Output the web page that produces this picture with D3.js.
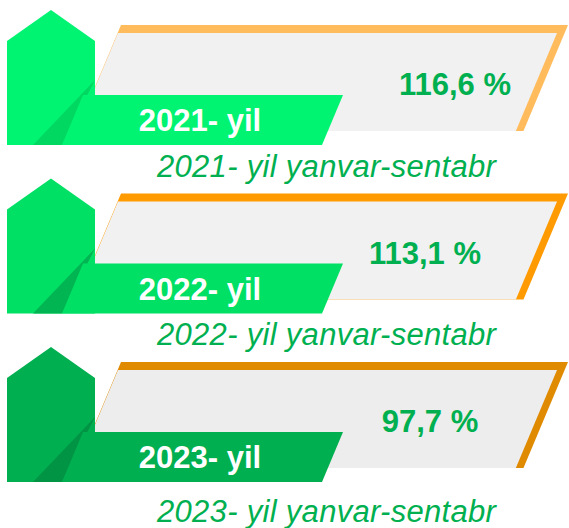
<!DOCTYPE html>
<html>
<head>
<meta charset="utf-8">
<script src="https://cdn.jsdelivr.net/npm/d3@7"></script>
<style>
    body { margin: 0; background: #fff; }
    svg { display: block; }
</style>
</head>
<body>
<div id="chart"></div>
<script>
// data
var years = ["2021", "2022", "2023"];
var values = [116.6, 113.1, 97.7];
var labels = ["2021- yil", "2022- yil", "2023- yil"];
var captions = ["2021- yil yanvar-sentabr", "2022- yil yanvar-sentabr", "2023- yil yanvar-sentabr"];

// per row styling
var houseColors = ["#00F472", "#00E064", "#00AF50"];
var shadeColors = ["#00D862", "#00B552", "#009444"];
var frameColors = ["#FFBB5C", "#FF9A00", "#E08A00"];
var panelColors = ["#F1F1F1", "#F1F1F1", "#EDEDED"];
var valueCenter = [455, 425, 430];
var captionDrop = [167, 166, 175];

var utils = (function () {
    return {
        create_svg: function (placement, width, height) {
            return d3.select(placement).append("svg")
                .attr("width", width)
                .attr("height", height);
        },
        poly: function (pts) {
            return "M" + pts.map(function (p) { return p[0] + "," + p[1]; }).join("L") + "Z";
        }
    }
})();

var infographic = (function () {
    var fmt = function (v) {
        return d3.format(".1f")(v).replace(".", ",") + " %";
    };

    return {
        draw: function (placement, width, height) {
            d3.select(placement).html("");
            var svg = utils.create_svg(placement, width, height);

            // dashed rule along the top
            var grad = svg.append("defs").append("linearGradient")
                .attr("id", "dash-grad")
                .attr("x1", "0%").attr("x2", "100%");
            grad.append("stop").attr("offset", "0%").attr("stop-color", "#c4c4c4");
            grad.append("stop").attr("offset", "35%").attr("stop-color", "#9a9a9a");
            grad.append("stop").attr("offset", "60%").attr("stop-color", "#444");
            grad.append("stop").attr("offset", "100%").attr("stop-color", "#222");

            svg.append("line")
                .attr("x1", 0).attr("x2", width)
                .attr("y1", 1).attr("y2", 1)
                .style("stroke", "url(#dash-grad)")
                .style("stroke-width", 2)
                .style("stroke-dasharray", "9,4.5");

            var y = d3.scaleBand()
                .domain(years)
                .range([10, 10 + 168.5 * years.length])
                .paddingInner(0);

            var rows = years.map(function (yr, i) {
                return {
                    year: yr, value: values[i], label: labels[i], caption: captions[i],
                    i: i, top: y(yr)
                };
            });

            var k = 0.42; // slant of the parallelograms

            var g = svg.selectAll("g.row")
                .data(rows)
                .enter().append("g")
                .attr("class", "row")
                .attr("transform", function (d) { return "translate(0," + d.top + ")"; });

            // orange frame, then the grey panel on top of it
            g.append("path")
                .attr("d", function () {
                    return utils.poly([[121, 15], [568, 15], [568 - k * 106, 121], [121 - k * 106, 121]]);
                })
                .style("fill", function (d) { return frameColors[d.i]; });

            g.append("path")
                .attr("d", function () {
                    return utils.poly([[118, 23], [557, 23], [557 - k * 98, 121], [118 - k * 98, 121]]);
                })
                .style("fill", function (d) { return panelColors[d.i]; });

            // house shape
            g.append("path")
                .attr("d", utils.poly([[7, 31], [51, 0], [95, 31], [95, 135], [7, 135]]))
                .style("fill", function (d) { return houseColors[d.i]; });

            g.append("path")
                .attr("d", utils.poly([[95, 70], [33, 135], [62, 135]]))
                .style("fill", function (d) { return shadeColors[d.i]; });

            // label bar
            g.append("path")
                .attr("d", utils.poly([[83, 85], [343, 85], [322, 135], [62, 135]]))
                .style("fill", function (d) { return houseColors[d.i]; });

            g.append("text")
                .attr("x", 200)
                .attr("y", 121)
                .attr("text-anchor", "middle")
                .style("font-family", "Arial, 'Liberation Sans', sans-serif")
                .style("font-weight", "bold")
                .style("font-size", "31px")
                .style("fill", "#fff")
                .text(function (d) { return d.label; });

            g.append("text")
                .attr("x", function (d) { return valueCenter[d.i]; })
                .attr("y", 85)
                .attr("text-anchor", "middle")
                .style("font-family", "Arial, 'Liberation Sans', sans-serif")
                .style("font-weight", "bold")
                .style("font-size", "31px")
                .style("fill", "#00B050")
                .text(function (d) { return fmt(d.value); });

            g.append("text")
                .attr("x", 157)
                .attr("y", function (d) { return captionDrop[d.i]; })
                .style("font-family", "Arial, 'Liberation Sans', sans-serif")
                .style("font-style", "italic")
                .style("font-size", "31px")
                .style("letter-spacing", "0.3px")
                .style("fill", "#00B050")
                .text(function (d) { return d.caption; });
        }
    }
})();

infographic.draw("#chart", 569, 528);
</script>
</body>
</html>
